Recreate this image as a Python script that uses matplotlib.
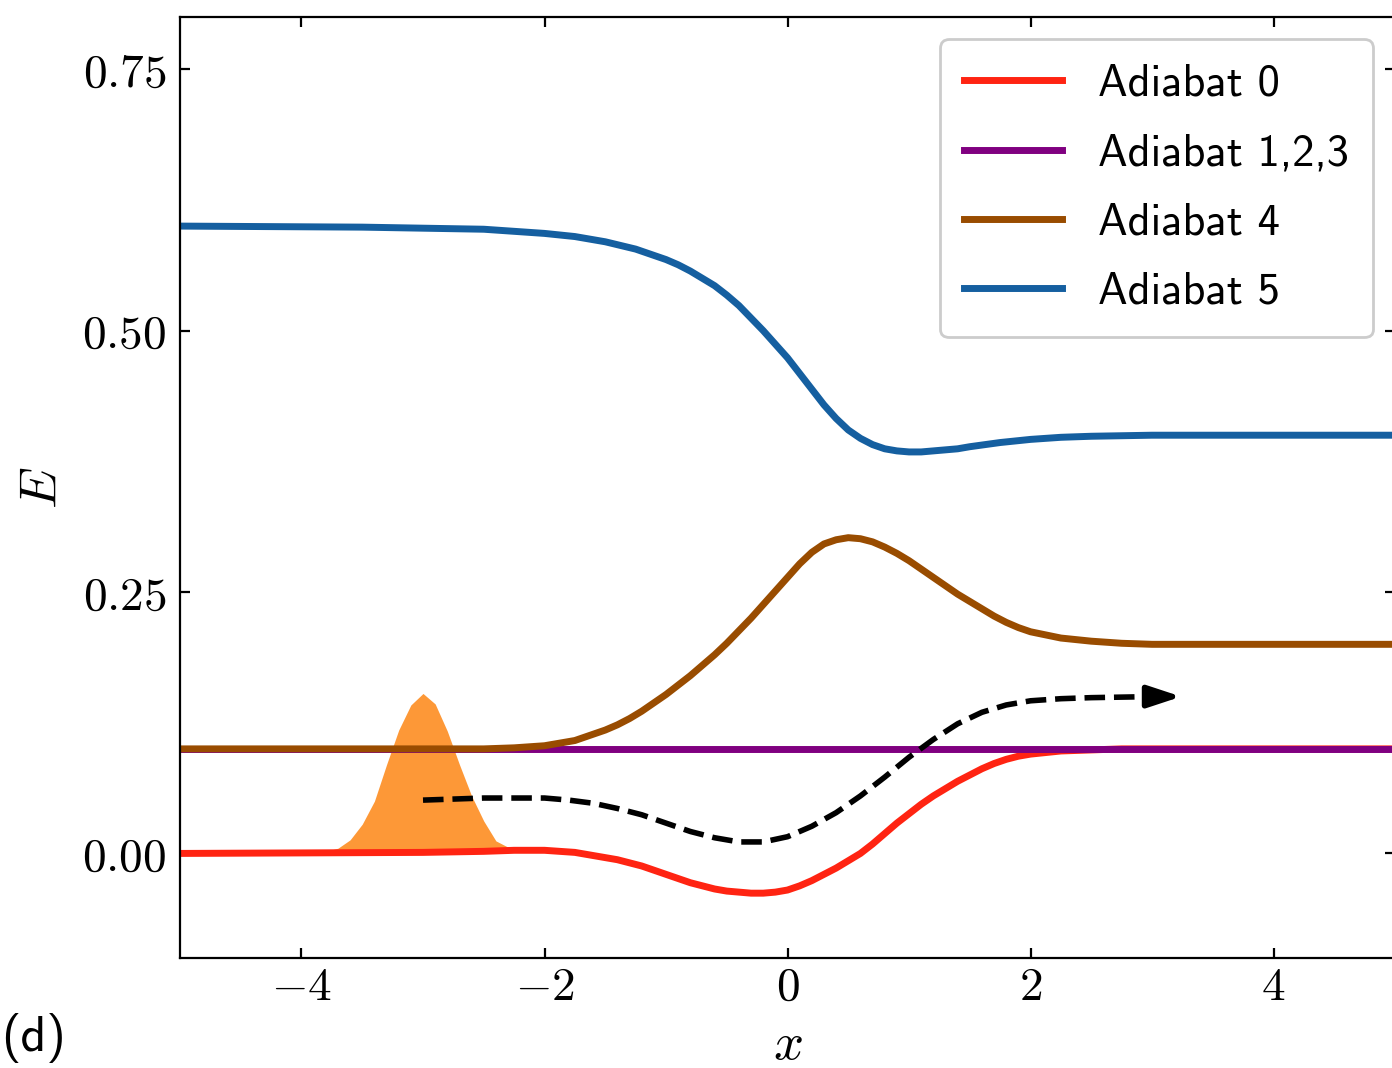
import numpy as np
import matplotlib
matplotlib.use('Agg')
import matplotlib.pyplot as plt
from matplotlib.ticker import FuncFormatter
from matplotlib.font_manager import FontProperties

plt.rcParams['mathtext.fontset'] = 'cm'

# adiabat 0 (ground)
x0 = [-5, -3, -2.5, -2.25, -2.0, -1.75, -1.5, -1.4, -1.3, -1.2, -1.1, -1.0, -0.9, -0.8,
      -0.7, -0.6, -0.5, -0.4, -0.3, -0.2, -0.1, 0.0, 0.1, 0.2, 0.3, 0.4, 0.5, 0.6, 0.7,
      0.8, 0.9, 1.0, 1.1, 1.2, 1.3, 1.4, 1.5, 1.6, 1.7, 1.8, 1.9, 2.0, 2.25, 2.5, 2.75,
      3.0, 5]
adiabat0 = [0.000, 0.001, 0.002, 0.003, 0.003, 0.001, -0.004, -0.006, -0.009, -0.012,
            -0.016, -0.020, -0.024, -0.028, -0.031, -0.034, -0.036, -0.037, -0.038, -0.038,
            -0.037, -0.035, -0.031, -0.026, -0.020, -0.014, -0.007, 0.000, 0.009, 0.019,
            0.029, 0.038, 0.047, 0.055, 0.062, 0.069, 0.075, 0.081, 0.086, 0.090, 0.093,
            0.095, 0.098, 0.099, 0.100, 0.100, 0.100]

# adiabats 1,2,3 (flat)
x123 = [-5, 5]
adiabat123 = [0.100, 0.100]

# adiabat 4
x4 = [-5, -2.5, -2.25, -2.0, -1.75, -1.5, -1.4, -1.3, -1.2, -1.1, -1.0, -0.9, -0.8, -0.7,
      -0.6, -0.5, -0.4, -0.3, -0.2, -0.1, 0.0, 0.1, 0.2, 0.3, 0.4, 0.5, 0.6, 0.7, 0.8,
      0.9, 1.0, 1.1, 1.2, 1.3, 1.4, 1.5, 1.6, 1.7, 1.8, 1.9, 2.0, 2.25, 2.5, 2.75, 3.0, 5]
adiabat4 = [0.100, 0.100, 0.101, 0.103, 0.108, 0.118, 0.123, 0.129, 0.136, 0.144,
            0.152, 0.161, 0.170, 0.180, 0.190, 0.201, 0.213, 0.225, 0.238, 0.251,
            0.264, 0.277, 0.288, 0.296, 0.300, 0.302, 0.301, 0.298, 0.293, 0.287,
            0.280, 0.272, 0.264, 0.256, 0.248, 0.241, 0.234, 0.227, 0.221, 0.216,
            0.212, 0.206, 0.203, 0.201, 0.200, 0.200]

# adiabat 5
x5 = [-5, -3.5, -3, -2.5, -2.25, -2.0, -1.75, -1.5, -1.25, -1.0, -0.9, -0.8, -0.7, -0.6,
      -0.5, -0.4, -0.3, -0.2, -0.1, 0.0, 0.1, 0.2, 0.3, 0.4, 0.5, 0.6, 0.7, 0.8, 0.9,
      1.0, 1.1, 1.2, 1.3, 1.4, 1.5, 1.75, 2.0, 2.25, 2.5, 2.75, 3.0, 5]
adiabat5 = [0.600, 0.599, 0.598, 0.597, 0.595, 0.593, 0.590, 0.585, 0.578, 0.568,
            0.563, 0.557, 0.550, 0.543, 0.534, 0.524, 0.512, 0.500, 0.487, 0.474,
            0.459, 0.444, 0.429, 0.416, 0.405, 0.397, 0.391, 0.387, 0.385, 0.384,
            0.384, 0.385, 0.386, 0.387, 0.389, 0.393, 0.396, 0.398, 0.399, 0.3995,
            0.400, 0.400]

# wavepacket
xw = [-4.0, -3.9, -3.8, -3.7, -3.6, -3.5, -3.4, -3.3, -3.2, -3.1, -3.0, -2.9, -2.8,
      -2.7, -2.6, -2.5, -2.4, -2.3]
psi = [0.000, 0.0005, 0.002, 0.005, 0.013, 0.028, 0.050, 0.085, 0.118, 0.142, 0.153,
       0.143, 0.117, 0.085, 0.055, 0.031, 0.012, 0.006]

# trajectory sketch
xp = [-3.0, -2.5, -2.0, -1.8, -1.6, -1.4, -1.2, -1.0, -0.8, -0.6, -0.4, -0.2, 0.0, 0.2,
      0.4, 0.6, 0.8, 1.0, 1.2, 1.4, 1.6, 1.8, 2.0, 2.25, 2.5, 3.0]
path = [0.051, 0.053, 0.053, 0.051, 0.048, 0.043, 0.037, 0.029, 0.021, 0.015, 0.011,
        0.011, 0.016, 0.026, 0.039, 0.055, 0.073, 0.092, 0.109, 0.124, 0.135, 0.142,
        0.146, 0.148, 0.149, 0.150]
arrow_tip = 3.24

labels = ['Adiabat 0', 'Adiabat 1,2,3', 'Adiabat 4', 'Adiabat 5']
colors = ['#ff2412', '#800080', '#994c00', '#155fa0']

fig = plt.figure(figsize=(6.96, 5.34), dpi=200)
ax = fig.add_axes([0.1293, 0.1030, 0.8729, 0.8811])

ax.fill_between(xw, 0, psi, color='#fd9837', lw=0, zorder=1)
for xs, ys, lab, c in zip([x0, x123, x4, x5], [adiabat0, adiabat123, adiabat4, adiabat5],
                          labels, colors):
    ax.plot(xs, ys, color=c, lw=2.5, label=lab, zorder=2)

ax.plot(xp, path, 'k--', lw=2, zorder=3)
ax.annotate('', xy=(arrow_tip, path[-1]), xytext=(xp[-1], path[-1]),
            arrowprops=dict(arrowstyle='-|>,head_length=10,head_width=3.3', mutation_scale=1,
                            color='k', lw=2, shrinkA=0, shrinkB=0), zorder=3)

ax.set_xlim(-5, 5)
ax.set_ylim(-0.1, 0.8)
ax.set_xticks([-4, -2, 0, 2, 4])
ax.set_yticks([0, 0.25, 0.5, 0.75])
ax.xaxis.set_major_formatter(FuncFormatter(lambda v, p: '$%d$' % v))
ax.yaxis.set_major_formatter(FuncFormatter(lambda v, p: '$%.2f$' % v))
ax.tick_params(direction='in', top=True, right=True, labelsize=17)
ax.tick_params(axis='y', pad=5)
ax.tick_params(axis='x', pad=2.5)
ax.set_xlabel('$x$', fontsize=19, labelpad=3)
ax.set_ylabel('$E$', fontsize=19, labelpad=5)

sans = FontProperties(family='cmss10', size=16)
ax.legend(loc='upper right', prop=sans, handlelength=2.2, labelspacing=0.64,
          handletextpad=0.8, borderpad=0.55, framealpha=1, edgecolor='#cccccc')

fig.text(0.001, 0.016, '(d)', fontproperties=FontProperties(family='cmss10', size=18))

fig.savefig('out.png', dpi=200)
